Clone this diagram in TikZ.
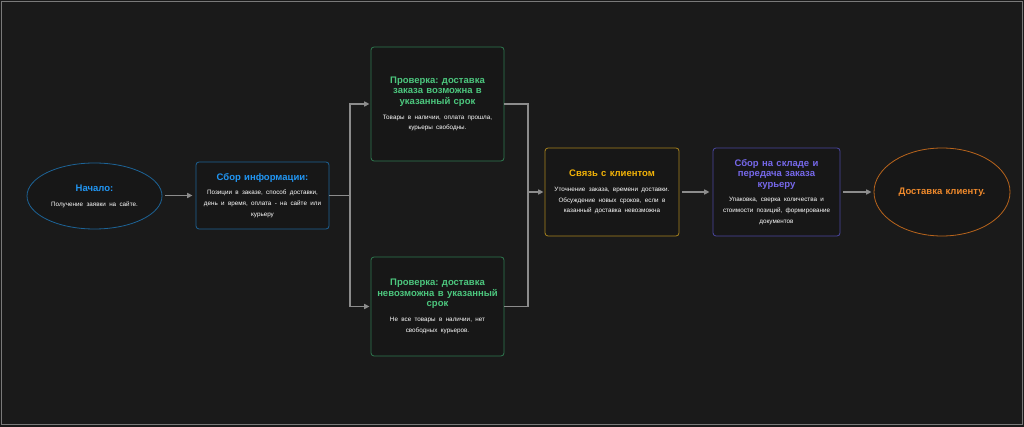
\documentclass[tikz,border=0pt]{standalone}
\usepackage{fontspec}
\setmainfont{Liberation Sans}
\usetikzlibrary{shapes.geometric,arrows.meta,calc}
\definecolor{bg}{HTML}{1A1A1A}
\definecolor{boxbg}{HTML}{171717}
\definecolor{frame}{HTML}{7A7A7A}
\definecolor{conn}{HTML}{8C8C8C}
\definecolor{bluebd}{HTML}{1D6396}
\definecolor{bluetx}{HTML}{2196F3}
\definecolor{greenbd}{HTML}{2F7A50}
\definecolor{greentx}{HTML}{4CC77E}
\definecolor{goldbd}{HTML}{A8841E}
\definecolor{goldtx}{HTML}{F2B308}
\definecolor{purplebd}{HTML}{4B47A0}
\definecolor{purpletx}{HTML}{7668EA}
\definecolor{orangebd}{HTML}{B8641C}
\definecolor{orangetx}{HTML}{F08A2C}
\frenchspacing
\newcommand\ttl{\centering\fontsize{9.5}{10.4}\selectfont\bfseries}
\newcommand\bdy{\fontsize{6.3}{10.8}\selectfont\mdseries\color{white}}
\newcommand\gap{\par\vspace{4pt}}
\tikzset{
  stepbox/.style={draw, rounded corners=3pt, line width=0.8pt, fill=boxbg, inner sep=0pt},
  oval/.style={draw, ellipse, line width=0.8pt, fill=boxbg, inner sep=0pt},
  link/.style={draw=conn, line width=1.4pt},
  arr/.style={link, -{Triangle[length=5.5pt,width=5pt]}}
}
\begin{document}
\begin{tikzpicture}[x=1pt,y=-1pt]
\fill[bg] (0,0) rectangle (1024,427);
\draw[frame, line width=1.4pt] (1.5,1.5) rectangle (1022.3,424.5);
\useasboundingbox (0,0) rectangle (1024,427);

\node[oval, draw=bluebd, minimum width=135pt, minimum height=66pt, text width=90pt] (start) at (94.5,196)
  {\ttl\color{bluetx}Начало:\gap\bdy Получение заявки на сайте.\par};
\node[stepbox, draw=bluebd, minimum width=133pt, minimum height=67pt, text width=128pt] (info) at (262.5,195.5)
  {\ttl\color{bluetx}Сбор информации:\gap\bdy Позиции в заказе, способ доставки,\\ день и время, оплата - на сайте или\\ курьеру\par};
\node[stepbox, draw=greenbd, minimum width=133pt, minimum height=114pt, text width=128pt] (ok) at (437.5,104)
  {\ttl\color{greentx}Проверка: доставка\\ заказа возможна в\\ указанный срок\gap\bdy Товары в наличии, оплата прошла,\\ курьеры свободны.\par};
\node[stepbox, draw=greenbd, minimum width=133pt, minimum height=99pt, text width=128pt] (no) at (437.5,306.5)
  {\ttl\color{greentx}Проверка: доставка\\ невозможна в указанный\\ срок\gap\bdy Не все товары в наличии, нет\\ свободных курьеров.\par};
\node[stepbox, draw=goldbd, minimum width=134pt, minimum height=88pt, text width=129pt] (contact) at (612,192)
  {\ttl\color{goldtx}Связь с клиентом\gap\bdy Уточнение заказа, времени доставки.\\ Обсуждение новых сроков, если в\\ казанный доставка невозможна\par};
\node[stepbox, draw=purplebd, minimum width=127pt, minimum height=88pt, text width=122pt] (store) at (776.5,192)
  {\ttl\color{purpletx}Сбор на складе и\\ передача заказа\\ курьеру\gap\bdy Упаковка, сверка количества и\\ стоимости позиций, формирование\\ документов\par};
\node[oval, draw=orangebd, minimum width=136pt, minimum height=88pt, text width=92pt] (finish) at (942,192)
  {\ttl\color{orangetx}Доставка клиенту.\par};

\coordinate (fork) at (350,195.5);
\coordinate (join) at (528,192);
\draw[arr, shorten <=3pt, shorten >=3pt] (start.east |- info.west) -- (info.west);
\draw[link] (info.east) -- (fork);
\draw[arr, shorten >=1pt] (fork) |- (ok.west);
\draw[arr, shorten >=1pt] (fork) |- (no.west);
\draw[link] (ok.east) -| (join);
\draw[link] (no.east) -| (join);
\draw[arr, shorten >=1pt] (join) -- (contact.west);
\draw[arr, shorten <=3pt, shorten >=3pt] (contact.east) -- (store.west);
\draw[arr, shorten <=3pt, shorten >=2pt] (store.east) -- (finish.west);
\end{tikzpicture}
\end{document}
